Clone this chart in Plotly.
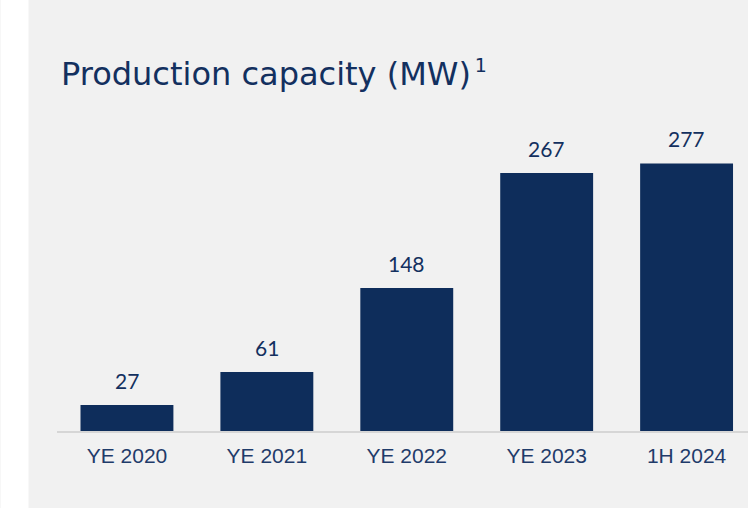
import plotly.graph_objects as go

categories = ["YE 2020", "YE 2021", "YE 2022", "YE 2023", "1H 2024"]
capacity_mw = [27, 61, 148, 267, 277]
value_labels = ["27", "61", "148", "267", "277"]
title_text = "Production capacity (MW)"
footnote = "1"

BAR = "#0e2d5b"
TXT = "#13305f"
BG = "#f1f1f1"

fig = go.Figure()
fig.add_trace(go.Bar(
    x=categories, y=capacity_mw, marker=dict(color=BAR, line=dict(width=0)),
    width=0.664, hoverinfo="skip",
))

for c, v, t in zip(categories, capacity_mw, value_labels):
    fig.add_annotation(x=c, y=v, text=t, showarrow=False, yanchor="bottom",
                       yshift=10, font=dict(family="Lato", size=21, color=TXT))

fig.add_shape(type="rect", xref="paper", yref="paper", x0=-0.0817, x1=-0.0412,
              y0=-1, y1=2, fillcolor="white", line=dict(width=0), layer="below")

fig.update_layout(
    width=748, height=508,
    margin=dict(l=56.5, r=0, t=140, b=77),
    paper_bgcolor=BG, plot_bgcolor=BG,
    showlegend=False,
    title=dict(text=title_text + "<sup><span style='font-size:19px'>\u2009" + footnote + "</span></sup>",
               xref="container", yref="container",
               x=61/748, xanchor="left", y=1 - 74/508, yanchor="middle",
               font=dict(family="DejaVu Sans", size=32, color=TXT)),
    xaxis=dict(range=[-0.5, 4.439], showline=True, linecolor="#d6d6d6", linewidth=2,
               ticks="", showgrid=False, zeroline=False, ticklabelstandoff=5,
               tickfont=dict(family="Liberation Sans", size=21, color="#1f3b6a")),
    yaxis=dict(range=[0, 301.2], visible=False, showgrid=False, zeroline=False),
)

fig.write_html("out.html", config={"displayModeBar": False},
               post_script="document.body.style.margin='0';")
